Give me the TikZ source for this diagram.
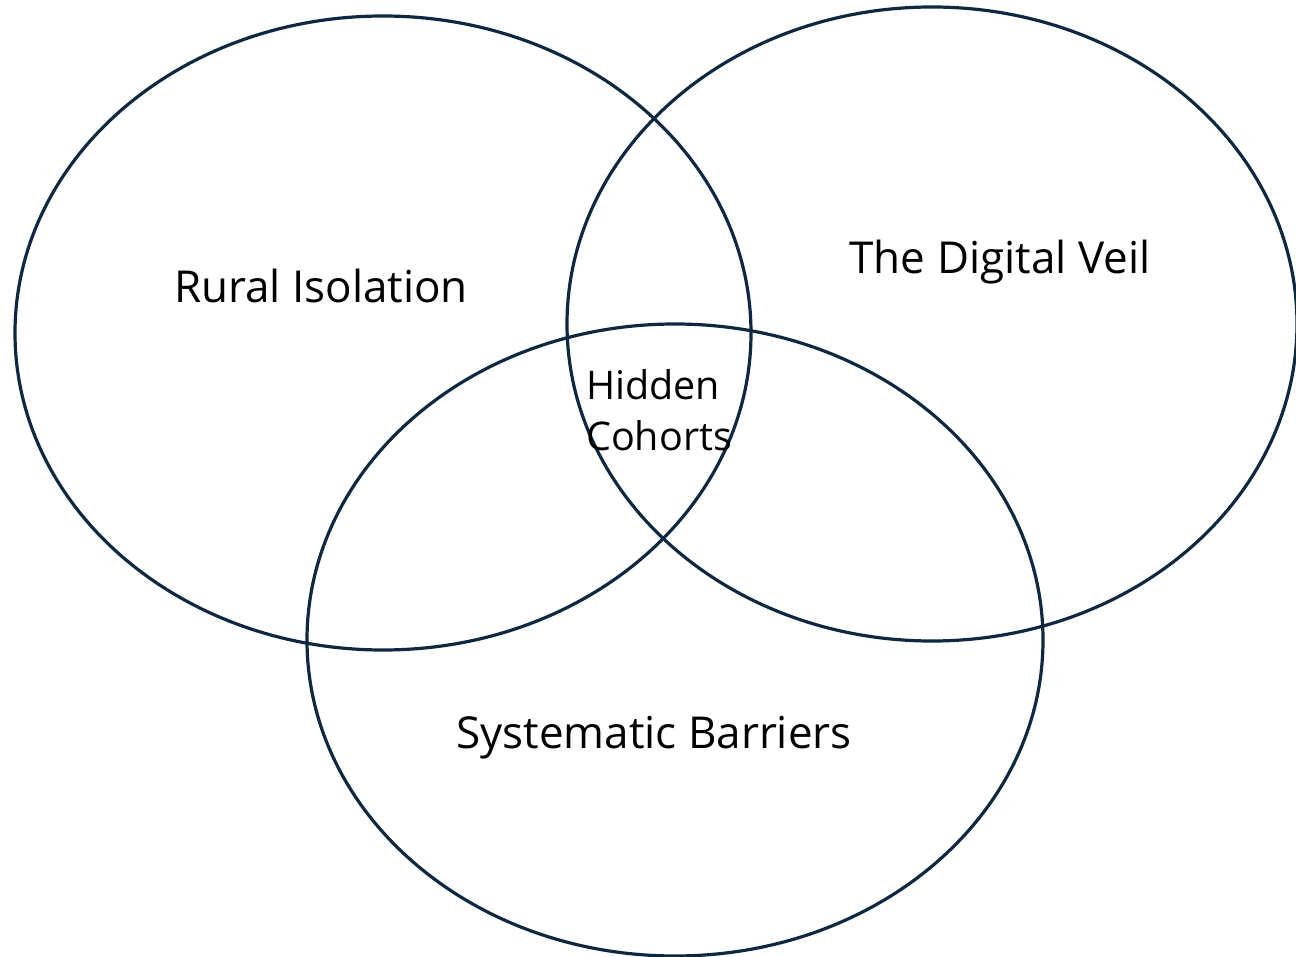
\documentclass[tikz,border=0pt]{standalone}
\usepackage{fontspec}
\setmainfont{Open Sans}
\definecolor{ring}{HTML}{0E2841}
\begin{document}
\begin{tikzpicture}[x=1pt,y=1pt,
  ring/.style={draw=ring,line width=3.2pt},
  big/.style={font=\fontsize{44}{52}\selectfont,text=black,inner sep=0pt},
  small/.style={font=\fontsize{39.5}{51}\selectfont,text=black,inner sep=0pt,align=left}]
\useasboundingbox (0,0) rectangle (1296,-957);
\draw[ring] (383,-333) ellipse [x radius=368, y radius=317];
\draw[ring] (932,-324) ellipse [x radius=365, y radius=317];
\draw[ring] (675,-640) ellipse [x radius=368, y radius=316];
\node[big] (rural) at (321,-286) {Rural Isolation};
\node[big] (veil) at (1000,-262) {The Digital Veil};
\node[big] (sys) at (654,-738) {Systematic Barriers};
\node[small,anchor=west] (hid) at (586,-410) {Hidden\\Cohorts};
\end{tikzpicture}
\end{document}
